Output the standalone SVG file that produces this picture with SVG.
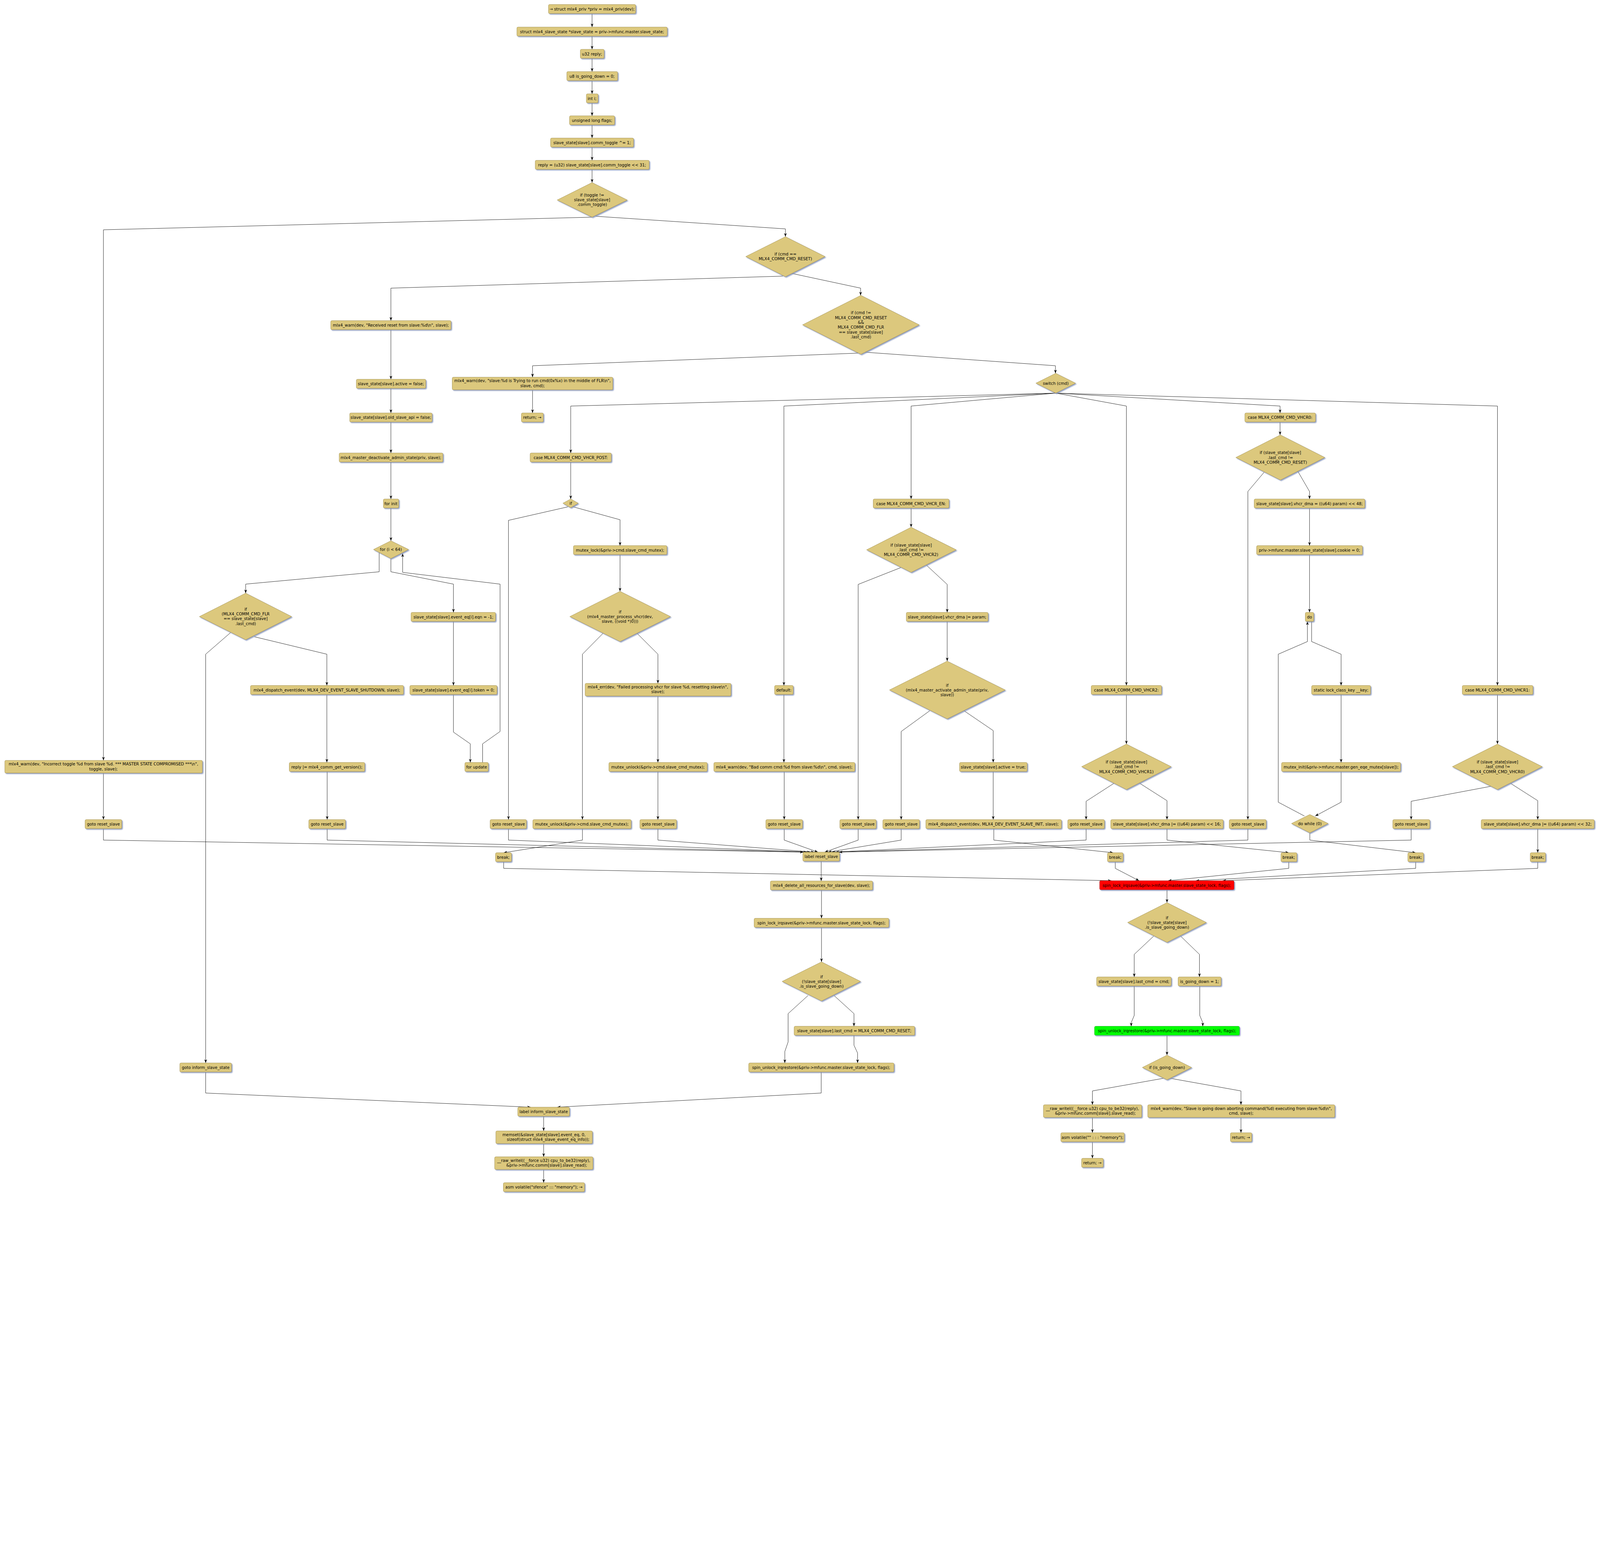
<svg xmlns="http://www.w3.org/2000/svg" width="5321" height="3980" viewBox="0 0 5321 3980" style="max-width:100%;height:auto">
<defs>
<filter id="sh" x="-20%" y="-30%" width="150%" height="180%"><feDropShadow dx="3" dy="3" stdDeviation="1.2" flood-color="#8393bb" flood-opacity="0.85"/></filter>
<marker id="a" markerUnits="userSpaceOnUse" markerWidth="13" markerHeight="10" refX="12" refY="4.5" orient="auto"><path d="M0,0 L12,4.5 L0,9 L3.5,4.5 Z" fill="#000"/></marker>
<style>
.b{fill:#dcc87d;stroke:#9a8742;stroke-width:1;filter:url(#sh)}
.r{fill:#ff0000;stroke:#a01010;stroke-width:1;filter:url(#sh)}
.g{fill:#00ff00;stroke:#10a010;stroke-width:1;filter:url(#sh)}
text{font-family:"DejaVu Sans","Liberation Sans",sans-serif;font-size:13.3px;text-anchor:middle;fill:#000}
.e polyline{fill:none;stroke:#000;stroke-width:1.1;marker-end:url(#a)}
</style>
</defs>
<rect width="5321" height="3980" fill="#fff"/>
<g id="connectors" class="e">
<polyline points="1969,46 1969,90"/>
<polyline points="1969,120 1969,164"/>
<polyline points="1969,194 1969,238"/>
<polyline points="1969,268 1969,312"/>
<polyline points="1969,342 1969,385"/>
<polyline points="1969,415 1969,459"/>
<polyline points="1969,489 1969,533"/>
<polyline points="1969,563 1969,607"/>
<polyline points="1969,722 344,764 344,2528"/>
<polyline points="1981,719 2612,761 2612,787"/>
<polyline points="344,2570 344,2725"/>
<polyline points="2604,918 1300,958 1300,1066"/>
<polyline points="2633,909 2862,958 2862,982"/>
<polyline points="1300,1096 1300,1261"/>
<polyline points="1300,1291 1300,1373"/>
<polyline points="1300,1403 1300,1506"/>
<polyline points="1300,1536 1300,1659"/>
<polyline points="1300,1689 1300,1798"/>
<polyline points="1261,1837 1261,1901 817,1942 817,1972"/>
<polyline points="1300,1857 1300,1901 1508,1942 1508,2036"/>
<polyline points="1508,2066 1508,2279"/>
<polyline points="1508,2309 1508,2434 1564,2473 1564,2535"/>
<polyline points="1605,2535 1605,2473 1663,2432 1663,1942 1339,1903 1339,1840"/>
<polyline points="767,2103 684,2175 684,3534"/>
<polyline points="846,2117 1087,2175 1087,2279"/>
<polyline points="1087,2309 1087,2535"/>
<polyline points="1088,2565 1088,2725"/>
<polyline points="684,3564 684,3634 1765,3681"/>
<polyline points="2854,1174 1771,1216 1771,1254"/>
<polyline points="2877,1171 3510,1216 3510,1241"/>
<polyline points="1771,1296 1771,1373"/>
<polyline points="3511,1307 1898,1350 1898,1506"/>
<polyline points="3511,1307 2607,1350 2607,2279"/>
<polyline points="3511,1307 3030,1350 3030,1659"/>
<polyline points="3511,1307 3746,1350 3746,2279"/>
<polyline points="3511,1307 4257,1350 4257,1373"/>
<polyline points="3511,1307 4980,1350 4980,2279"/>
<polyline points="1898,1536 1898,1659"/>
<polyline points="1889,1685 1691,1730 1691,2725"/>
<polyline points="1906,1685 2062,1728 2062,1814"/>
<polyline points="2062,1844 2062,1966"/>
<polyline points="2006,2105 1937,2175 1937,2725"/>
<polyline points="2118,2105 2188,2175 2188,2272"/>
<polyline points="2188,2314 2188,2535"/>
<polyline points="2188,2565 2188,2725"/>
<polyline points="1937,2755 1937,2793 1675,2835"/>
<polyline points="2607,2309 2607,2535"/>
<polyline points="2608,2565 2608,2725"/>
<polyline points="3030,1689 3030,1753"/>
<polyline points="2996,1887 2854,1943 2854,2725"/>
<polyline points="3081,1879 3150,1943 3150,2036"/>
<polyline points="3150,2066 3150,2198"/>
<polyline points="3092,2363 2997,2432 2997,2725"/>
<polyline points="3206,2363 3303,2429 3303,2535"/>
<polyline points="3303,2565 3303,2725"/>
<polyline points="3305,2755 3305,2793 3702,2835"/>
<polyline points="3746,2309 3746,2474"/>
<polyline points="3705,2604 3612,2664 3612,2725"/>
<polyline points="3790,2604 3881,2662 3881,2725"/>
<polyline points="3881,2755 3881,2793 4286,2835"/>
<polyline points="4257,1403 4257,1446"/>
<polyline points="4204,1570 4150,1634 4150,2725"/>
<polyline points="4315,1565 4355,1634 4355,1659"/>
<polyline points="4355,1689 4355,1814"/>
<polyline points="4355,1844 4355,2036"/>
<polyline points="4362,2066 4362,2133 4460,2175 4460,2279"/>
<polyline points="4460,2309 4460,2535"/>
<polyline points="4460,2565 4460,2667 4374,2713"/>
<polyline points="4338,2713 4251,2667 4251,2175 4348,2133 4348,2066"/>
<polyline points="4356,2769 4356,2793 4708,2835"/>
<polyline points="4980,2309 4980,2474"/>
<polyline points="4959,2614 4693,2664 4693,2725"/>
<polyline points="5023,2604 5114,2662 5114,2725"/>
<polyline points="5114,2755 5114,2835"/>
<polyline points="344,2755 344,2793 2672,2833"/>
<polyline points="1088,2755 1088,2793 2684,2833"/>
<polyline points="1691,2755 1691,2793 2696,2833"/>
<polyline points="2188,2755 2188,2793 2708,2833"/>
<polyline points="2608,2755 2608,2793 2720,2833"/>
<polyline points="2854,2755 2854,2793 2743,2833"/>
<polyline points="2997,2755 2997,2793 2754,2833"/>
<polyline points="3612,2755 3612,2793 2766,2833"/>
<polyline points="4150,2755 4150,2793 2778,2833"/>
<polyline points="4693,2755 4693,2793 2790,2833"/>
<polyline points="2731,2863 2731,2929"/>
<polyline points="2732,2959 2732,3053"/>
<polyline points="2732,3083 2732,3198"/>
<polyline points="2687,3310 2621,3370 2621,3464 2610,3496 2610,3534"/>
<polyline points="2774,3310 2840,3370 2840,3412"/>
<polyline points="2840,3442 2840,3475 2852,3501 2852,3534"/>
<polyline points="2731,3564 2731,3634 1853,3681"/>
<polyline points="1808,3711 1808,3760"/>
<polyline points="1808,3802 1808,3846"/>
<polyline points="1808,3888 1808,3932"/>
<polyline points="1675,2865 1675,2887 3696,2928"/>
<polyline points="3709,2865 3709,2887 3788,2928"/>
<polyline points="4286,2865 4286,2887 3885,2928"/>
<polyline points="4708,2865 4708,2887 3977,2928"/>
<polyline points="5114,2865 5114,2887 4066,2928"/>
<polyline points="3881,2958 3881,3001"/>
<polyline points="3837,3112 3772,3173 3772,3248"/>
<polyline points="3926,3112 3989,3173 3989,3248"/>
<polyline points="3772,3278 3772,3376 3762,3400 3762,3412"/>
<polyline points="3990,3278 3990,3376 4000,3400 4000,3412"/>
<polyline points="3881,3442 3881,3508"/>
<polyline points="3869,3585 3633,3627 3633,3673"/>
<polyline points="3892,3585 4127,3627 4127,3673"/>
<polyline points="3633,3715 3633,3766"/>
<polyline points="3633,3796 3633,3851"/>
<polyline points="4127,3715 4127,3766"/>
</g>
<g id="n1"><rect class="b" x="1824" y="15" width="290" height="30" rx="4"/><text x="1969" y="35">→ struct mlx4_priv *priv = mlx4_priv(dev);</text></g>
<g id="n2"><rect class="b" x="1719" y="90" width="500" height="30" rx="4"/><text x="1969" y="110">struct mlx4_slave_state *slave_state = priv-&gt;mfunc.master.slave_state;</text></g>
<g id="n3"><rect class="b" x="1930" y="164" width="79" height="30" rx="4"/><text x="1969" y="184">u32 reply;</text></g>
<g id="n4"><rect class="b" x="1885" y="238" width="169" height="30" rx="4"/><text x="1969" y="258">u8 is_going_down = 0;</text></g>
<g id="n5"><rect class="b" x="1950" y="312" width="39" height="30" rx="4"/><text x="1969" y="332">int i;</text></g>
<g id="n6"><rect class="b" x="1894" y="385" width="150" height="30" rx="4"/><text x="1969" y="405">unsigned long flags;</text></g>
<g id="n7"><rect class="b" x="1831" y="459" width="276" height="30" rx="4"/><text x="1969" y="479">slave_state[slave].comm_toggle ^= 1;</text></g>
<g id="n8"><rect class="b" x="1780" y="533" width="379" height="30" rx="4"/><text x="1969" y="553">reply = (u32) slave_state[slave].comm_toggle &lt;&lt; 31;</text></g>
<g id="d1"><polygon class="b" points="1969,607 2086,665 1969,722 1853,665"/><text x="1969" y="653">if (toggle !=</text><text x="1969" y="669">slave_state[slave]</text><text x="1969" y="685">.comm_toggle)</text></g>
<g id="warn_toggle"><rect class="b" x="16" y="2528" width="657" height="42" rx="4"/><text x="344" y="2545">mlx4_warn(dev, "Incorrect toggle %d from slave %d. *** MASTER STATE COMPROMISED ***\n",</text><text x="344" y="2561">toggle, slave);</text></g>
<g id="goto1"><rect class="b" x="283" y="2725" width="122" height="30" rx="4"/><text x="344" y="2745">goto reset_slave</text></g>
<g id="d2"><polygon class="b" points="2612,787 2744,853 2612,920 2480,853"/><text x="2612" y="849">if (cmd ==</text><text x="2612" y="865">MLX4_COMM_CMD_RESET)</text></g>
<g id="warn_reset"><rect class="b" x="1100" y="1066" width="400" height="30" rx="4"/><text x="1300" y="1086">mlx4_warn(dev, "Received reset from slave:%d\n", slave);</text></g>
<g id="active_false"><rect class="b" x="1185" y="1261" width="231" height="30" rx="4"/><text x="1300" y="1281">slave_state[slave].active = false;</text></g>
<g id="old_api"><rect class="b" x="1163" y="1373" width="274" height="30" rx="4"/><text x="1300" y="1393">slave_state[slave].old_slave_api = false;</text></g>
<g id="deact"><rect class="b" x="1128" y="1506" width="345" height="30" rx="4"/><text x="1300" y="1526">mlx4_master_deactivate_admin_state(priv, slave);</text></g>
<g id="for_init"><rect class="b" x="1275" y="1659" width="51" height="30" rx="4"/><text x="1300" y="1679">for init</text></g>
<g id="d_for"><polygon class="b" points="1300,1798 1359,1827 1300,1857 1242,1827"/><text x="1300" y="1832">for (i &lt; 64)</text></g>
<g id="d_flr"><polygon class="b" points="817,1972 970,2050 817,2127 663,2050"/><text x="817" y="2030">if</text><text x="817" y="2046">(MLX4_COMM_CMD_FLR</text><text x="817" y="2062">== slave_state[slave]</text><text x="817" y="2078">.last_cmd)</text></g>
<g id="dispatch_shut"><rect class="b" x="833" y="2279" width="509" height="30" rx="4"/><text x="1087" y="2299">mlx4_dispatch_event(dev, MLX4_DEV_EVENT_SLAVE_SHUTDOWN, slave);</text></g>
<g id="reply_ver"><rect class="b" x="962" y="2535" width="251" height="30" rx="4"/><text x="1087" y="2555">reply |= mlx4_comm_get_version();</text></g>
<g id="goto2"><rect class="b" x="1027" y="2725" width="122" height="30" rx="4"/><text x="1088" y="2745">goto reset_slave</text></g>
<g id="eqn"><rect class="b" x="1367" y="2036" width="281" height="30" rx="4"/><text x="1508" y="2056">slave_state[slave].event_eq[i].eqn = -1;</text></g>
<g id="token"><rect class="b" x="1363" y="2279" width="290" height="30" rx="4"/><text x="1508" y="2299">slave_state[slave].event_eq[i].token = 0;</text></g>
<g id="for_update"><rect class="b" x="1546" y="2535" width="78" height="30" rx="4"/><text x="1585" y="2555">for update</text></g>
<g id="goto_inform"><rect class="b" x="598" y="3534" width="172" height="30" rx="4"/><text x="684" y="3554">goto inform_slave_state</text></g>
<g id="d3"><polygon class="b" points="2863,982 3057,1080 2863,1178 2669,1080"/><text x="2863" y="1045">if (cmd !=</text><text x="2863" y="1061">MLX4_COMM_CMD_RESET</text><text x="2863" y="1077">&amp;&amp;</text><text x="2863" y="1093">MLX4_COMM_CMD_FLR</text><text x="2863" y="1109">== slave_state[slave]</text><text x="2863" y="1125">.last_cmd)</text></g>
<g id="warn_flr"><rect class="b" x="1504" y="1254" width="534" height="42" rx="4"/><text x="1771" y="1271">mlx4_warn(dev, "slave:%d is Trying to run cmd(0x%x) in the middle of FLR\n",</text><text x="1771" y="1287">slave, cmd);</text></g>
<g id="ret1"><rect class="b" x="1734" y="1373" width="73" height="30" rx="4"/><text x="1770" y="1393">return; →</text></g>
<g id="switch"><polygon class="b" points="3511,1241 3577,1274 3511,1307 3445,1274"/><text x="3511" y="1279">switch (cmd)</text></g>
<g id="case_post"><rect class="b" x="1763" y="1506" width="270" height="30" rx="4"/><text x="1898" y="1526">case MLX4_COMM_CMD_VHCR_POST:</text></g>
<g id="d_if"><polygon class="b" points="1898,1659 1923,1673 1898,1688 1872,1673"/><text x="1898" y="1678">if</text></g>
<g id="goto3"><rect class="b" x="1630" y="2725" width="121" height="30" rx="4"/><text x="1691" y="2745">goto reset_slave</text></g>
<g id="mutex_lock"><rect class="b" x="1907" y="1814" width="311" height="30" rx="4"/><text x="2062" y="1834">mutex_lock(&amp;priv-&gt;cmd.slave_cmd_mutex);</text></g>
<g id="d_vhcr"><polygon class="b" points="2062,1966 2230,2050 2062,2133 1895,2050"/><text x="2062" y="2039">if</text><text x="2062" y="2055">(mlx4_master_process_vhcr(dev,</text><text x="2062" y="2071">slave, ((void *)0)))</text></g>
<g id="mutex_unlock1"><rect class="b" x="1772" y="2725" width="327" height="30" rx="4"/><text x="1935" y="2745">mutex_unlock(&amp;priv-&gt;cmd.slave_cmd_mutex);</text></g>
<g id="err"><rect class="b" x="1946" y="2272" width="485" height="42" rx="4"/><text x="2188" y="2289">mlx4_err(dev, "Failed processing vhcr for slave %d, resetting slave\n",</text><text x="2188" y="2305">slave);</text></g>
<g id="mutex_unlock2"><rect class="b" x="2025" y="2535" width="327" height="30" rx="4"/><text x="2188" y="2555">mutex_unlock(&amp;priv-&gt;cmd.slave_cmd_mutex);</text></g>
<g id="goto4"><rect class="b" x="2128" y="2725" width="122" height="30" rx="4"/><text x="2189" y="2745">goto reset_slave</text></g>
<g id="break1"><rect class="b" x="1648" y="2835" width="53" height="30" rx="4"/><text x="1674" y="2855">break;</text></g>
<g id="default"><rect class="b" x="2576" y="2279" width="62" height="30" rx="4"/><text x="2607" y="2299">default:</text></g>
<g id="warn_bad"><rect class="b" x="2374" y="2535" width="469" height="30" rx="4"/><text x="2608" y="2555">mlx4_warn(dev, "Bad comm cmd:%d from slave:%d\n", cmd, slave);</text></g>
<g id="goto5"><rect class="b" x="2547" y="2725" width="122" height="30" rx="4"/><text x="2608" y="2745">goto reset_slave</text></g>
<g id="case_en"><rect class="b" x="2904" y="1659" width="252" height="30" rx="4"/><text x="3030" y="1679">case MLX4_COMM_CMD_VHCR_EN:</text></g>
<g id="d_en"><polygon class="b" points="3030,1753 3180,1828 3030,1903 2882,1828"/><text x="3030" y="1817">if (slave_state[slave]</text><text x="3030" y="1833">.last_cmd !=</text><text x="3030" y="1849">MLX4_COMM_CMD_VHCR2)</text></g>
<g id="goto6"><rect class="b" x="2793" y="2725" width="121" height="30" rx="4"/><text x="2854" y="2745">goto reset_slave</text></g>
<g id="vhcr_param"><rect class="b" x="3014" y="2036" width="272" height="30" rx="4"/><text x="3150" y="2056">slave_state[slave].vhcr_dma |= param;</text></g>
<g id="d_act"><polygon class="b" points="3150,2198 3343,2294 3150,2390 2958,2294"/><text x="3150" y="2283">if</text><text x="3150" y="2299">(mlx4_master_activate_admin_state(priv,</text><text x="3150" y="2315">slave))</text></g>
<g id="goto7"><rect class="b" x="2936" y="2725" width="122" height="30" rx="4"/><text x="2997" y="2745">goto reset_slave</text></g>
<g id="active_true"><rect class="b" x="3191" y="2535" width="225" height="30" rx="4"/><text x="3303" y="2555">slave_state[slave].active = true;</text></g>
<g id="dispatch_init"><rect class="b" x="3079" y="2725" width="451" height="30" rx="4"/><text x="3304" y="2745">mlx4_dispatch_event(dev, MLX4_DEV_EVENT_SLAVE_INIT, slave);</text></g>
<g id="break2"><rect class="b" x="3683" y="2835" width="52" height="30" rx="4"/><text x="3709" y="2855">break;</text></g>
<g id="case_v2"><rect class="b" x="3629" y="2279" width="234" height="30" rx="4"/><text x="3746" y="2299">case MLX4_COMM_CMD_VHCR2:</text></g>
<g id="d_v2"><polygon class="b" points="3746,2474 3895,2549 3746,2625 3597,2549"/><text x="3746" y="2538">if (slave_state[slave]</text><text x="3746" y="2554">.last_cmd !=</text><text x="3746" y="2570">MLX4_COMM_CMD_VHCR1)</text></g>
<g id="goto8"><rect class="b" x="3551" y="2725" width="122" height="30" rx="4"/><text x="3612" y="2745">goto reset_slave</text></g>
<g id="vhcr16"><rect class="b" x="3694" y="2725" width="374" height="30" rx="4"/><text x="3881" y="2745">slave_state[slave].vhcr_dma |= ((u64) param) &lt;&lt; 16;</text></g>
<g id="break3"><rect class="b" x="4260" y="2835" width="53" height="30" rx="4"/><text x="4286" y="2855">break;</text></g>
<g id="case_v0"><rect class="b" x="4140" y="1373" width="235" height="30" rx="4"/><text x="4257" y="1393">case MLX4_COMM_CMD_VHCR0:</text></g>
<g id="d_v0"><polygon class="b" points="4258,1446 4406,1521 4258,1596 4110,1521"/><text x="4258" y="1510">if (slave_state[slave]</text><text x="4258" y="1526">.last_cmd !=</text><text x="4258" y="1542">MLX4_COMM_CMD_RESET)</text></g>
<g id="goto9"><rect class="b" x="4088" y="2725" width="123" height="30" rx="4"/><text x="4150" y="2745">goto reset_slave</text></g>
<g id="vhcr48"><rect class="b" x="4171" y="1659" width="368" height="30" rx="4"/><text x="4355" y="1679">slave_state[slave].vhcr_dma = ((u64) param) &lt;&lt; 48;</text></g>
<g id="cookie"><rect class="b" x="4179" y="1814" width="352" height="30" rx="4"/><text x="4355" y="1834">priv-&gt;mfunc.master.slave_state[slave].cookie = 0;</text></g>
<g id="do"><rect class="b" x="4341" y="2036" width="28" height="30" rx="4"/><text x="4355" y="2056">do</text></g>
<g id="static_key"><rect class="b" x="4362" y="2279" width="196" height="30" rx="4"/><text x="4460" y="2299">static lock_class_key __key;</text></g>
<g id="mutex_init"><rect class="b" x="4262" y="2535" width="396" height="30" rx="4"/><text x="4460" y="2555">mutex_init(&amp;priv-&gt;mfunc.master.gen_eqe_mutex[slave]);</text></g>
<g id="dowhile"><polygon class="b" points="4356,2708 4417,2738 4356,2769 4295,2738"/><text x="4356" y="2743">do while (0)</text></g>
<g id="break4"><rect class="b" x="4682" y="2835" width="52" height="30" rx="4"/><text x="4708" y="2855">break;</text></g>
<g id="case_v1"><rect class="b" x="4863" y="2279" width="235" height="30" rx="4"/><text x="4980" y="2299">case MLX4_COMM_CMD_VHCR1:</text></g>
<g id="d_v1"><polygon class="b" points="4980,2474 5129,2549 4980,2625 4830,2549"/><text x="4980" y="2538">if (slave_state[slave]</text><text x="4980" y="2554">.last_cmd !=</text><text x="4980" y="2570">MLX4_COMM_CMD_VHCR0)</text></g>
<g id="goto10"><rect class="b" x="4632" y="2725" width="123" height="30" rx="4"/><text x="4693" y="2745">goto reset_slave</text></g>
<g id="vhcr32"><rect class="b" x="4926" y="2725" width="376" height="30" rx="4"/><text x="5114" y="2745">slave_state[slave].vhcr_dma |= ((u64) param) &lt;&lt; 32;</text></g>
<g id="break5"><rect class="b" x="5089" y="2835" width="51" height="30" rx="4"/><text x="5114" y="2855">break;</text></g>
<g id="label_reset"><rect class="b" x="2670" y="2833" width="122" height="30" rx="4"/><text x="2731" y="2853">label reset_slave</text></g>
<g id="delete"><rect class="b" x="2562" y="2929" width="340" height="30" rx="4"/><text x="2732" y="2949">mlx4_delete_all_resources_for_slave(dev, slave);</text></g>
<g id="spin_lock_tan"><rect class="b" x="2508" y="3053" width="448" height="30" rx="4"/><text x="2732" y="3073">spin_lock_irqsave(&amp;priv-&gt;mfunc.master.slave_state_lock, flags);</text></g>
<g id="d_gd1"><polygon class="b" points="2732,3198 2862,3263 2732,3328 2601,3263"/><text x="2732" y="3252">if</text><text x="2732" y="3268">(!slave_state[slave]</text><text x="2732" y="3284">.is_slave_going_down)</text></g>
<g id="last_reset"><rect class="b" x="2641" y="3412" width="401" height="30" rx="4"/><text x="2841" y="3432">slave_state[slave].last_cmd = MLX4_COMM_CMD_RESET;</text></g>
<g id="spin_unlock_tan"><rect class="b" x="2490" y="3534" width="483" height="30" rx="4"/><text x="2731" y="3554">spin_unlock_irqrestore(&amp;priv-&gt;mfunc.master.slave_state_lock, flags);</text></g>
<g id="label_inform"><rect class="b" x="1722" y="3681" width="172" height="30" rx="4"/><text x="1808" y="3701">label inform_slave_state</text></g>
<g id="memset"><rect class="b" x="1649" y="3760" width="321" height="42" rx="4"/><text x="1809" y="3777">memset(&amp;slave_state[slave].event_eq, 0,</text><text x="1823" y="3793">sizeof(struct mlx4_slave_event_eq_info));</text></g>
<g id="raw1"><rect class="b" x="1645" y="3846" width="327" height="42" rx="4"/><text x="1808" y="3863">__raw_writel((__force u32) cpu_to_be32(reply),</text><text x="1818" y="3879">&amp;priv-&gt;mfunc.comm[slave].slave_read);</text></g>
<g id="asm1"><rect class="b" x="1674" y="3932" width="270" height="30" rx="4"/><text x="1809" y="3952">asm volatile("sfence" ::: "memory"); →</text></g>
<g id="red_lock"><rect class="r" x="3657" y="2928" width="447" height="30" rx="4"/><text x="3880" y="2948">spin_lock_irqsave(&amp;priv-&gt;mfunc.master.slave_state_lock, flags);</text></g>
<g id="d_gd2"><polygon class="b" points="3881,3001 4012,3067 3881,3133 3750,3067"/><text x="3881" y="3056">if</text><text x="3881" y="3072">(!slave_state[slave]</text><text x="3881" y="3088">.is_slave_going_down)</text></g>
<g id="last_cmd"><rect class="b" x="3647" y="3248" width="248" height="30" rx="4"/><text x="3771" y="3268">slave_state[slave].last_cmd = cmd;</text></g>
<g id="is_going_down"><rect class="b" x="3918" y="3248" width="143" height="30" rx="4"/><text x="3989" y="3268">is_going_down = 1;</text></g>
<g id="green_unlock"><rect class="g" x="3640" y="3412" width="482" height="30" rx="4"/><text x="3881" y="3432">spin_unlock_irqrestore(&amp;priv-&gt;mfunc.master.slave_state_lock, flags);</text></g>
<g id="d_igd"><polygon class="b" points="3881,3508 3963,3549 3881,3590 3799,3549"/><text x="3881" y="3554">if (is_going_down)</text></g>
<g id="raw2"><rect class="b" x="3470" y="3673" width="327" height="42" rx="4"/><text x="3633" y="3690">__raw_writel((__force u32) cpu_to_be32(reply),</text><text x="3643" y="3706">&amp;priv-&gt;mfunc.comm[slave].slave_read);</text></g>
<g id="warn_down"><rect class="b" x="3817" y="3673" width="622" height="42" rx="4"/><text x="4128" y="3690">mlx4_warn(dev, "Slave is going down aborting command(%d) executing from slave:%d\n",</text><text x="4128" y="3706">cmd, slave);</text></g>
<g id="asm2"><rect class="b" x="3528" y="3766" width="211" height="30" rx="4"/><text x="3633" y="3786">asm volatile("" : : : "memory");</text></g>
<g id="ret2"><rect class="b" x="3597" y="3851" width="72" height="30" rx="4"/><text x="3633" y="3871">return; →</text></g>
<g id="ret3"><rect class="b" x="4092" y="3766" width="71" height="30" rx="4"/><text x="4127" y="3786">return; →</text></g>
</svg>
